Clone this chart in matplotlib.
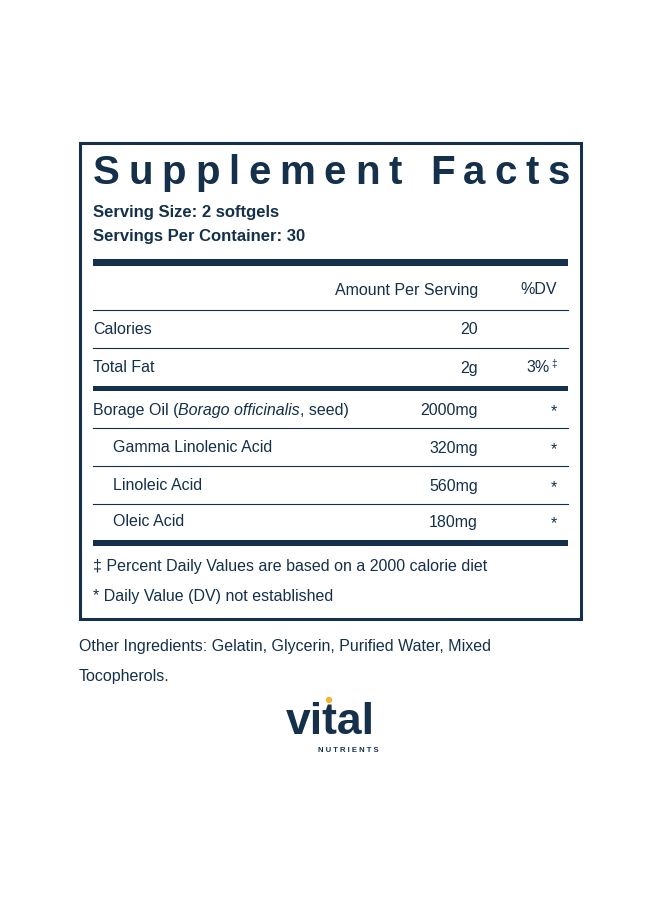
import matplotlib
matplotlib.use("Agg")
import matplotlib.pyplot as plt
from matplotlib.patches import Rectangle, Circle

navy = "#14304a"
plt.rcParams['font.family'] = ['Liberation Sans', 'DejaVu Sans']

title = "Supplement Facts"
serving = ["Serving Size: 2 softgels", "Servings Per Container: 30"]
rows = ["Calories", "Total Fat", "Borage Oil", "Gamma Linolenic Acid", "Linoleic Acid", "Oleic Acid"]
amounts = ["20", "2g", "2000mg", "320mg", "560mg", "180mg"]
dvs = ["", "3%\u2021", "*", "*", "*", "*"]
indent = [0, 0, 0, 1, 1, 1]
footnotes = ["\u2021 Percent Daily Values are based on a 2000 calorie diet",
             "* Daily Value (DV) not established"]
other = ["Other Ingredients: Gelatin, Glycerin, Purified Water, Mixed", "Tocopherols."]

fig = plt.figure(figsize=(6.6, 9), dpi=100)
ax = fig.add_axes([0, 0, 1, 1])
ax.set_xlim(0, 660)
ax.set_ylim(900, 0)
ax.axis("off")

# box
ax.add_patch(Rectangle((80, 143), 501, 476, fill=False, ec=navy, lw=2.2))

# title with letter spacing
fig.canvas.draw()
r = fig.canvas.get_renderer()
x0, x1 = 93, 570
ts = []
for ch in title:
    t = ax.text(0, 173, ch, fontsize=29, fontweight="bold", color=navy, va="center")
    ts.append(t)
ws = [t.get_window_extent(r).width for t in ts]
gap = ((x1 - x0) - sum(ws)) / (len(ts) - 1)
x = x0
for t, w in zip(ts, ws):
    t.set_x(x)
    x += w + gap

ax.text(93, 212, serving[0], fontsize=12, fontweight="bold", color=navy, va="center")
ax.text(93, 237, serving[1], fontsize=12, fontweight="bold", color=navy, va="center")

def bar(y, h):
    ax.add_patch(Rectangle((93, y - h / 2), 475, h, color=navy, lw=0))

def thin(y):
    ax.plot([93, 568], [y, y], color=navy, lw=0.8)

bar(262, 7)
fs = 11.5
ax.text(478, 290, "Amount Per Serving", fontsize=fs, color=navy, va="center", ha="right")
ax.text(557, 290, "%DV", fontsize=fs, color=navy, va="center", ha="right")
thin(310)

ys = [330, 368, 410, 448, 486, 522]
for i, (name, amt, dv, ind, y) in enumerate(zip(rows, amounts, dvs, indent, ys)):
    xl = 93 + 20 * ind
    if name == "Borage Oil":
        t = ax.text(xl, y, "Borage Oil (", fontsize=fs, color=navy, va="center")
        t2 = ax.annotate("Borago officinalis", xycoords=t, xy=(1, 0.5), va="center",
                         fontsize=fs, color=navy, style="italic")
        ax.annotate(", seed)", xycoords=t2, xy=(1, 0.5), va="center", fontsize=fs, color=navy)
    else:
        ax.text(xl, y, name, fontsize=fs, color=navy, va="center")
    ax.text(478, y, amt, fontsize=fs, color=navy, va="center", ha="right")
    if dv.startswith("3%"):
        ax.text(550, y, "3%", fontsize=fs, color=navy, va="center", ha="right")
        ax.text(551, y - 4, "\u2021", fontsize=7, color=navy, va="center", ha="left")
    elif dv:
        ax.text(557, y + 2, dv, fontsize=fs, color=navy, va="center", ha="right")

thin(348)
bar(388, 5)
thin(428)
thin(466)
thin(504)
bar(543, 6)

ax.text(93, 567, footnotes[0], fontsize=fs, color=navy, va="center")
ax.text(93, 596, footnotes[1], fontsize=fs, color=navy, va="center")

ax.text(79, 647, other[0], fontsize=fs, color=navy, va="center")
ax.text(79, 677, other[1], fontsize=fs, color=navy, va="center")

# logo
ax.text(330, 722, "vital", fontsize=32, fontweight="bold", color=navy, va="center",
        ha="center")
ax.add_patch(Circle((329, 700), 2.5, color="#f2b632"))
ax.text(379, 751, "N U T R I E N T S", fontsize=5.5, fontweight="bold", color=navy,
        va="center", ha="right")

fig.savefig("out.png", dpi=100)
